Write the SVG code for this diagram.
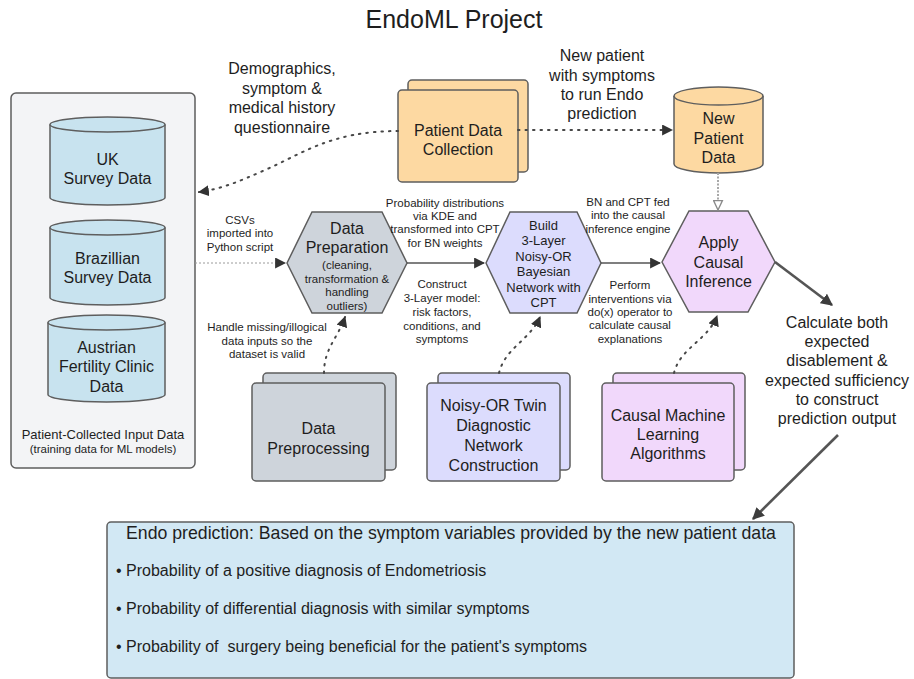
<svg xmlns="http://www.w3.org/2000/svg" width="914" height="679" viewBox="0 0 914 679">
<defs>
<style>
text{font-family:"Liberation Sans",Arial,sans-serif;fill:#1e1e1e;text-anchor:middle}
.t25{font-size:25px}
.t18{font-size:17.7px}
.t16{font-size:16px}
.t13{font-size:13px}
.t12{font-size:11.5px}
.t11{font-size:11.5px}
.box{stroke:#5e5e5e;stroke-width:1.5}
.orange{fill:#fdd9a2}
.blue{fill:#c8e3ef}
.gray{fill:#ced4db}
.lav{fill:#dcdcfd}
.purp{fill:#f1d8fb}
.dot{fill:none;stroke:#474747;stroke-width:2;stroke-dasharray:1.5 6;stroke-linecap:round}
.solid{fill:none;stroke:#555;stroke-width:1.6}
.thick{fill:none;stroke:#555;stroke-width:2.6}
</style>
<marker id="ah" viewBox="0 0 10 10" refX="9" refY="5" markerWidth="11" markerHeight="11" markerUnits="userSpaceOnUse" orient="auto">
<path d="M0,0 L10,5 L0,10 z" fill="#333"/>
</marker>
<marker id="ahb" viewBox="0 0 10 10" refX="9" refY="5" markerWidth="12" markerHeight="12" markerUnits="userSpaceOnUse" orient="auto">
<path d="M0,0 L10,5 L0,10 z" fill="#3d3d3d"/>
</marker>
<marker id="aho" viewBox="0 0 10 10" refX="9" refY="5" markerWidth="11" markerHeight="11" markerUnits="userSpaceOnUse" orient="auto">
<path d="M0.5,1 L9,5 L0.5,9 z" fill="#fff" stroke="#8a8a8a" stroke-width="1.2"/>
</marker>
</defs>
<rect width="914" height="679" fill="#ffffff"/>
<text class="t25" x="454" y="28">EndoML Project</text>

<g id="input-panel">
<rect class="box" x="11" y="93" width="184" height="375" rx="5" fill="#f3f4f6"/>
<text class="t13" x="103" y="439">Patient-Collected Input Data</text>
<text class="t11" x="103" y="453">(training data for ML models)</text>
</g>

<g id="uk-survey">
<path class="box blue" d="M50,124.5 L50,197.5 A57.5,7.5 0 0 0 165,197.5 L165,124.5"/>
<ellipse class="box blue" cx="107.5" cy="124.5" rx="57.5" ry="7.5"/>
<text class="t16" x="107.5" y="165">UK</text>
<text class="t16" x="107.5" y="184">Survey Data</text>
</g>
<g id="brazil-survey">
<path class="box blue" d="M50,227.5 L50,297.5 A57.5,7.5 0 0 0 165,297.5 L165,227.5"/>
<ellipse class="box blue" cx="107.5" cy="227.5" rx="57.5" ry="7.5"/>
<text class="t16" x="107.5" y="264">Brazillian</text>
<text class="t16" x="107.5" y="283">Survey Data</text>
</g>
<g id="austrian-clinic">
<path class="box blue" d="M48,322.5 L48,394.5 A58.5,7.5 0 0 0 165,394.5 L165,322.5"/>
<ellipse class="box blue" cx="106.5" cy="322.5" rx="58.5" ry="7.5"/>
<text class="t16" x="106.5" y="353">Austrian</text>
<text class="t16" x="106.5" y="372">Fertility Clinic</text>
<text class="t16" x="106.5" y="392">Data</text>
</g>

<g id="patient-data-collection">
<rect class="box orange" x="408" y="80" width="120" height="92" rx="4"/>
<rect class="box orange" x="398" y="90" width="120" height="92" rx="4"/>
<text class="t16" x="458" y="136">Patient Data</text>
<text class="t16" x="458" y="155">Collection</text>
</g>

<g id="new-patient-data">
<path class="box orange" d="M674,96 L674,164 A44.5,9 0 0 0 763,164 L763,96"/>
<ellipse class="box orange" cx="718.5" cy="96" rx="44.5" ry="9"/>
<text class="t16" x="718.5" y="124">New</text>
<text class="t16" x="718.5" y="144">Patient</text>
<text class="t16" x="718.5" y="163">Data</text>
</g>

<g id="data-preparation">
<polygon class="box gray" points="287,263 312,212 382,212 407,263 382,313 312,313"/>
<text class="t16" x="347" y="234">Data</text>
<text class="t16" x="347" y="253">Preparation</text>
<text class="t12" x="347" y="269">(cleaning,</text>
<text class="t12" x="347" y="282.5">transformation &amp;</text>
<text class="t12" x="347" y="296">handling</text>
<text class="t12" x="347" y="309.5">outliers)</text>
</g>

<g id="build-bn">
<polygon class="box lav" points="486,263 510,212 577,212 601,263 577,313 510,313"/>
<text class="t13" x="543.5" y="229.5">Build</text>
<text class="t13" x="543.5" y="245">3-Layer</text>
<text class="t13" x="543.5" y="260.5">Noisy-OR</text>
<text class="t13" x="543.5" y="276">Bayesian</text>
<text class="t13" x="543.5" y="291.5">Network with</text>
<text class="t13" x="543.5" y="307">CPT</text>
</g>

<g id="apply-causal">
<polygon class="box purp" points="662,262 689,211 748,211 775,262 748,312 689,312"/>
<text class="t16" x="718.5" y="248">Apply</text>
<text class="t16" x="718.5" y="268">Causal</text>
<text class="t16" x="718.5" y="287">Inference</text>
</g>

<g id="data-preprocessing">
<rect class="box gray" x="263" y="373" width="133" height="97" rx="4"/>
<rect class="box gray" x="252" y="383" width="133" height="98" rx="4"/>
<text class="t16" x="318.5" y="434">Data</text>
<text class="t16" x="318.5" y="454">Preprocessing</text>
</g>

<g id="noisy-or-twin">
<rect class="box lav" x="438" y="373" width="132" height="97" rx="4"/>
<rect class="box lav" x="427" y="383" width="133" height="98" rx="4"/>
<text class="t16" x="493.5" y="411">Noisy-OR Twin</text>
<text class="t16" x="493.5" y="431">Diagnostic</text>
<text class="t16" x="493.5" y="451">Network</text>
<text class="t16" x="493.5" y="471">Construction</text>
</g>

<g id="causal-ml">
<rect class="box purp" x="613" y="373" width="132" height="97" rx="4"/>
<rect class="box purp" x="602" y="383" width="132" height="98" rx="4"/>
<text class="t16" x="668" y="421">Causal Machine</text>
<text class="t16" x="668" y="440">Learning</text>
<text class="t16" x="668" y="459">Algorithms</text>
</g>

<g id="endo-prediction">
<rect class="box" x="107" y="522" width="687" height="156" rx="4" fill="#d2e8f4"/>
<text class="t18" x="451" y="539">Endo prediction: Based on the symptom variables provided by the new patient data</text>
<text class="t16" x="116" y="576" style="text-anchor:start">• Probability of a positive diagnosis of Endometriosis</text>
<text class="t16" x="116" y="614" style="text-anchor:start">• Probability of differential diagnosis with similar symptoms</text>
<text class="t16" x="116" y="652" style="text-anchor:start;white-space:pre">• Probability of  surgery being beneficial for the patient's symptoms</text>
</g>

<g id="connectors">
<path class="dot" d="M398,131 C330,131 300,155 265,170 C240,181 222,189 199,192" marker-end="url(#ah)"/>
<path class="dot" d="M518,130 L672,130" marker-end="url(#ah)"/>
<path d="M718,173 L718,210" fill="none" stroke="#a8a8a8" stroke-width="2" stroke-dasharray="2 1.5" marker-end="url(#aho)"/>
<path d="M195,263 L285,263" fill="none" stroke="#9a9a9a" stroke-width="1" stroke-dasharray="2 2" marker-end="url(#ah)"/>
<path class="solid" d="M407,263 L484,263" marker-end="url(#ah)"/>
<path class="solid" d="M601,263 L660,263" marker-end="url(#ah)"/>
<path class="thick" d="M775,262 L832,305" marker-end="url(#ahb)"/>
<path class="thick" d="M838,435 L753,519" marker-end="url(#ahb)"/>
<path class="dot" d="M324,373 C324,348 338,338 345,317" marker-end="url(#ah)"/>
<path class="dot" d="M499,373 C505,348 530,340 540,317" marker-end="url(#ah)"/>
<path class="dot" d="M674,373 C680,348 708,340 717,316" marker-end="url(#ah)"/>
</g>

<g id="labels">
<text class="t16" x="282" y="74">Demographics,</text>
<text class="t16" x="282" y="94">symptom &amp;</text>
<text class="t16" x="282" y="113">medical history</text>
<text class="t16" x="282" y="133">questionnaire</text>
<text class="t16" x="602" y="61">New patient</text>
<text class="t16" x="602" y="81">with symptoms</text>
<text class="t16" x="602" y="100">to run Endo</text>
<text class="t16" x="602" y="119">prediction</text>
<text class="t11" x="240" y="224">CSVs</text>
<text class="t11" x="240" y="237">imported into</text>
<text class="t11" x="240" y="251">Python script</text>
<text class="t11" x="445" y="207">Probability distributions</text>
<text class="t11" x="445" y="220">via KDE and</text>
<text class="t11" x="445" y="233">transformed into CPT</text>
<text class="t11" x="445" y="247">for BN weights</text>
<text class="t11" x="442" y="288">Construct</text>
<text class="t11" x="442" y="302">3-Layer model:</text>
<text class="t11" x="442" y="316">risk factors,</text>
<text class="t11" x="442" y="330">conditions, and</text>
<text class="t11" x="442" y="343">symptoms</text>
<text class="t11" x="267" y="331">Handle missing/illogical</text>
<text class="t11" x="267" y="345">data inputs so the</text>
<text class="t11" x="267" y="358">dataset is valid</text>
<text class="t11" x="628" y="206">BN and CPT fed</text>
<text class="t11" x="628" y="219">into the causal</text>
<text class="t11" x="628" y="233">inference engine</text>
<text class="t11" x="630" y="289">Perform</text>
<text class="t11" x="630" y="303">interventions via</text>
<text class="t11" x="630" y="316">do(x) operator to</text>
<text class="t11" x="630" y="329">calculate causal</text>
<text class="t11" x="630" y="343">explanations</text>
<text class="t16" x="837" y="328">Calculate both</text>
<text class="t16" x="837" y="347">expected</text>
<text class="t16" x="837" y="366">disablement &amp;</text>
<text class="t16" x="837" y="386">expected sufficiency</text>
<text class="t16" x="837" y="405">to construct</text>
<text class="t16" x="837" y="424">prediction output</text>
</g>
</svg>
